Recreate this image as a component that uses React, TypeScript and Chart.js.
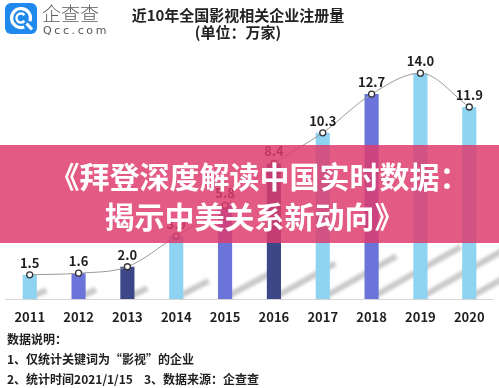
import React, { useEffect, useRef } from "react";
import { Chart, registerables } from "chart.js";

Chart.register(...registerables);

const years = ["2011", "2012", "2013", "2014", "2015", "2016", "2017", "2018", "2019", "2020"];
const registrations = [1.5, 1.6, 2.0, 3.9, 5.8, 8.4, 10.3, 12.7, 14.0, 11.9];
const barColors = [
  "#8ed3f1", "#6b74d8", "#3c4787", "#8ed3f1", "#6b74d8",
  "#3c4787", "#8ed3f1", "#6b74d8", "#8ed3f1", "#8ed3f1",
];

const titleText = "近10年全国影视相关企业注册量";
const unitText = "(单位：万家)";
const bannerLines = ["《拜登深度解读中国实时数据：", "揭示中美关系新动向》"];
const noteTitle = "数据说明：";
const noteLine1 = "1、仅统计关键词为“影视”的企业";
const noteLine2a = "2、统计时间2021/1/15";
const noteLine2b = "3、数据来源：企查查";

const CJK = '"Noto Sans CJK SC", "Noto Sans", sans-serif';

const shadowPlugin = {
  id: "barShadow",
  beforeDatasetsDraw(chart: any) {
    const meta = chart.getDatasetMeta(1);
    const ctx = chart.ctx;
    ctx.save();
    ctx.filter = "blur(1.5px)";
    ctx.strokeStyle = "rgba(120,120,120,0.4)";
    ctx.lineWidth = 6;
    ctx.lineCap = "butt";
    meta.data.forEach((el: any) => {
      const p = el.getProps(["x", "y", "base", "width"], true);
      const h = p.base - p.y;
      const right = p.x + p.width / 2;
      ctx.beginPath();
      ctx.moveTo(right - 4, p.base - 3);
      ctx.lineTo(right + h * 0.4, p.base - 3 - h * 0.24);
      ctx.stroke();
    });
    ctx.restore();
  },
};

const labelPlugin = {
  id: "pointLabels",
  afterDatasetsDraw(chart: any) {
    const meta = chart.getDatasetMeta(0);
    const ctx = chart.ctx;
    ctx.save();
    ctx.font = `bold 13px ${CJK}`;
    ctx.fillStyle = "#1f1f1f";
    ctx.textAlign = "center";
    ctx.textBaseline = "middle";
    meta.data.forEach((el: any, i: number) => {
      ctx.fillText(registrations[i].toFixed(1), el.x, el.y - 12);
    });
    ctx.restore();
  },
};

export default function App() {
  const ref = useRef<HTMLCanvasElement | null>(null);

  useEffect(() => {
    document.body.style.margin = "0";
    if (!ref.current) return;
    const chart = new Chart(ref.current, {
      type: "bar",
      data: {
        labels: years,
        datasets: [
          {
            type: "line",
            data: registrations,
            borderColor: "#9a9a9a",
            borderWidth: 1,
            cubicInterpolationMode: "monotone",
            pointRadius: 3,
            pointBackgroundColor: "#ffffff",
            pointBorderColor: "#333333",
            pointBorderWidth: 1.3,
            order: 0,
          } as any,
          {
            type: "bar",
            data: registrations,
            backgroundColor: barColors,
            categoryPercentage: 1,
            barPercentage: 0.29,
            order: 1,
          },
        ],
      },
      options: {
        responsive: false,
        animation: false,
        layout: { padding: { top: 57, left: 1, right: 1, bottom: 59 } },
        plugins: {
          legend: { display: false },
          tooltip: { enabled: false },
          title: { display: false },
        },
        scales: {
          x: {
            grid: { display: false, drawTicks: false },
            border: { display: true, color: "#d6d6d6", width: 1 },
            ticks: {
              color: "#1f1f1f",
              font: { family: CJK, size: 13, weight: "bold" },
              padding: 10,
            },
            afterFit(scale: any) {
              scale.height = 30;
            },
          },
          y: {
            display: false,
            min: 0,
            max: 15,
          },
        },
      },
      plugins: [shadowPlugin, labelPlugin],
    });
    return () => chart.destroy();
  }, []);

  return (
    <div style={{ position: "relative", width: 499, height: 388, background: "#fff", overflow: "hidden", fontFamily: CJK }}>
      <canvas ref={ref} width={499} height={388} style={{ position: "absolute", left: 0, top: 0 }} />
      <svg width={32} height={31} style={{ position: "absolute", left: 5, top: 3 }}>
        <rect width={32} height={31} rx={6} fill="#2089ee" />
        <path d="M19.25 23.93 A9.5 9.5 0 1 1 24.93 18.25" stroke="#fff" strokeWidth={3.2} fill="none" />
        <path d="M21.5 20.5 L27 26.5" stroke="#fff" strokeWidth={3.2} />
        <path d="M19.45 12.11 A4.5 4.5 0 1 0 19.45 17.89" stroke="#fff" strokeWidth={2.4} fill="none" />
      </svg>
      <div style={{ position: "absolute", left: 42, top: 1, fontSize: 19, lineHeight: "24px", color: "#5a5a5a", fontWeight: 300 }}>企查查</div>
      <div style={{ position: "absolute", left: 43, top: 24, fontSize: 11, lineHeight: "14px", color: "#555", letterSpacing: 2.6, fontFamily: '"DejaVu Sans", sans-serif' }}>Qcc.com</div>
      <div style={{ position: "absolute", left: 88, width: 300, top: 5, textAlign: "center", fontSize: 15, lineHeight: "20px", fontWeight: 700, color: "#222", whiteSpace: "nowrap" }}>
        <div>{titleText}</div>
        <div style={{ marginTop: -3 }}>{unitText}</div>
      </div>
      <div style={{ position: "absolute", left: 0, top: 145, width: 499, height: 98, background: "rgba(222,58,110,0.84)", color: "#fff", fontWeight: 700, fontSize: 30, lineHeight: "40px", textAlign: "center", paddingTop: 10, boxSizing: "border-box", whiteSpace: "nowrap" }}>
        <div style={{ marginLeft: 20 }}>{bannerLines[0]}</div>
        <div style={{ marginLeft: 10 }}>{bannerLines[1]}</div>
      </div>
      <div style={{ position: "absolute", left: 7, top: 329, fontSize: 12, lineHeight: "20px", fontWeight: 700, color: "#1f1f1f", whiteSpace: "nowrap" }}>
        <div>{noteTitle}</div>
        <div>{noteLine1}</div>
        <div>
          {noteLine2a}
          <span style={{ marginLeft: 11 }}>{noteLine2b}</span>
        </div>
      </div>
    </div>
  );
}
